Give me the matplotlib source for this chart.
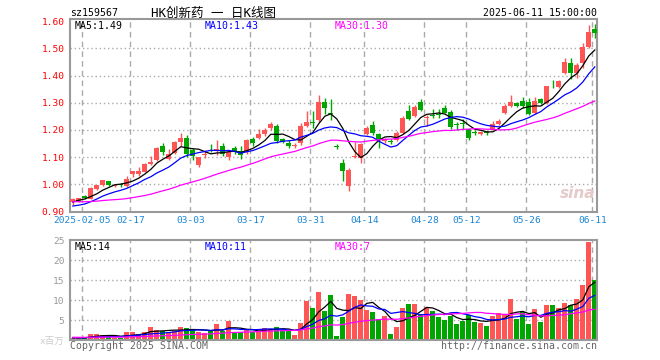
import math
import numpy as np
import matplotlib
matplotlib.use("Agg")
import matplotlib.pyplot as plt

plt.rcParams['font.family'] = ['DejaVu Sans Mono', 'Noto Sans CJK SC']

# ---------------- data ----------------
open_ = [0.936, 0.940, 0.957, 0.945, 0.984, 0.996, 1.012, 0.995, 1.000, 0.994,
         1.038, 1.038, 1.046, 1.073, 1.089, 1.141, 1.093, 1.114, 1.157, 1.169,
         1.126, 1.071, 1.108, 1.131, 1.127, 1.141, 1.102, 1.135, 1.122, 1.120,
         1.167, 1.169, 1.186, 1.206, 1.215, 1.165, 1.153, 1.141, 1.150, 1.215,
         1.228, 1.236, 1.304, 1.262, 1.140, 1.077, 0.993, 1.100, 1.095, 1.185,
         1.218, 1.185, 1.160, 1.158, 1.163, 1.189, 1.270, 1.252, 1.301, 1.243,
         1.255, 1.260, 1.279, 1.266, 1.222, 1.226, 1.202, 1.192, 1.185, 1.191,
         1.200, 1.221, 1.261, 1.289, 1.300, 1.306, 1.303, 1.261, 1.313, 1.298,
         1.363, 1.359, 1.411, 1.445, 1.411, 1.445, 1.506, 1.571]
high = [0.950, 0.950, 0.960, 0.990, 0.998, 1.016, 1.013, 1.002, 1.005, 1.030,
        1.050, 1.062, 1.080, 1.103, 1.137, 1.150, 1.130, 1.160, 1.187, 1.181,
        1.132, 1.101, 1.126, 1.147, 1.163, 1.150, 1.126, 1.142, 1.140, 1.165,
        1.175, 1.205, 1.208, 1.230, 1.220, 1.170, 1.163, 1.150, 1.224, 1.270,
        1.270, 1.328, 1.316, 1.312, 1.147, 1.093, 1.060, 1.154, 1.150, 1.214,
        1.233, 1.190, 1.170, 1.165, 1.195, 1.252, 1.292, 1.290, 1.312, 1.255,
        1.277, 1.277, 1.291, 1.275, 1.230, 1.240, 1.205, 1.198, 1.197, 1.196,
        1.232, 1.240, 1.297, 1.328, 1.303, 1.322, 1.316, 1.320, 1.318, 1.362,
        1.382, 1.382, 1.465, 1.465, 1.445, 1.518, 1.586, 1.588]
low = [0.925, 0.935, 0.945, 0.945, 0.980, 0.995, 0.995, 0.990, 0.990, 0.990,
       1.025, 1.030, 1.044, 1.070, 1.087, 1.108, 1.088, 1.112, 1.140, 1.101,
       1.090, 1.062, 1.098, 1.120, 1.108, 1.105, 1.090, 1.110, 1.093, 1.110,
       1.140, 1.165, 1.176, 1.200, 1.150, 1.150, 1.132, 1.132, 1.145, 1.210,
       1.206, 1.230, 1.260, 1.236, 1.130, 1.012, 0.975, 1.098, 1.080, 1.180,
       1.180, 1.135, 1.150, 1.148, 1.158, 1.186, 1.236, 1.248, 1.270, 1.214,
       1.243, 1.245, 1.262, 1.205, 1.200, 1.205, 1.163, 1.183, 1.182, 1.182,
       1.198, 1.218, 1.258, 1.285, 1.285, 1.280, 1.255, 1.258, 1.296, 1.296,
       1.356, 1.356, 1.405, 1.387, 1.392, 1.426, 1.500, 1.539]
close = [0.946, 0.948, 0.948, 0.985, 0.997, 1.015, 0.996, 0.998, 0.997, 1.020,
         1.049, 1.049, 1.073, 1.083, 1.135, 1.120, 1.110, 1.157, 1.169, 1.113,
         1.105, 1.101, 1.112, 1.128, 1.130, 1.110, 1.120, 1.120, 1.106, 1.163,
         1.150, 1.185, 1.200, 1.222, 1.160, 1.156, 1.140, 1.144, 1.214, 1.229,
         1.224, 1.304, 1.280, 1.258, 1.136, 1.050, 1.053, 1.105, 1.147, 1.208,
         1.187, 1.163, 1.165, 1.155, 1.187, 1.243, 1.240, 1.284, 1.274, 1.246,
         1.252, 1.256, 1.264, 1.212, 1.218, 1.222, 1.172, 1.189, 1.193, 1.188,
         1.222, 1.233, 1.289, 1.303, 1.288, 1.289, 1.257, 1.306, 1.298, 1.361,
         1.360, 1.380, 1.448, 1.408, 1.438, 1.506, 1.561, 1.557]
volume = [0.6, 0.5, 0.6, 1.5, 1.5, 1.25, 0.8, 0.6, 0.6, 2.0,
          1.9, 1.5, 1.9, 3.25, 2.5, 2.25, 2.1, 2.25, 3.25, 3.0,
          2.5, 2.0, 1.75, 2.4, 4.0, 2.25, 4.75, 1.9, 1.9, 2.6,
          1.9, 2.75, 2.9, 2.75, 3.25, 2.4, 2.4, 1.25, 4.25, 9.75,
          8.0, 12.0, 7.25, 11.25, 1.0, 5.8, 11.5, 11.0, 10.0, 7.5,
          7.0, 5.25, 6.0, 1.5, 3.25, 8.0, 9.0, 9.0, 6.5, 8.25,
          7.25, 5.8, 5.0, 6.0, 4.0, 4.8, 6.25, 4.5, 4.25, 3.5,
          6.0, 6.75, 6.5, 10.25, 5.25, 7.0, 4.0, 7.75, 4.5, 8.75,
          8.75, 8.0, 9.25, 8.75, 10.25, 13.75, 24.5, 15.0]

# closes / volumes of the 29 sessions before the window (only feed the moving averages)
prev_close = [0.950, 0.955, 0.960, 0.952, 0.948, 0.945, 0.950, 0.955, 0.948, 0.940,
              0.938, 0.945, 0.950, 0.942, 0.935, 0.940, 0.938, 0.932, 0.930, 0.927,
              0.915, 0.905, 0.900, 0.900, 0.905, 0.915, 0.925, 0.940, 0.948]
prev_volume = [0.8, 0.7, 0.9, 0.8, 0.7, 0.6, 0.8, 0.9, 0.7, 0.6,
               0.7, 0.8, 0.6, 0.7, 0.8, 0.6, 0.7, 0.6, 0.7, 0.8,
               0.7, 0.6, 0.6, 0.5, 0.6, 0.6, 0.5, 0.6, 0.5]

date_labels = ["2025-02-05", "02-17", "03-03", "03-17", "03-31",
               "04-14", "04-28", "05-12", "05-26", "06-11"]
date_index = [2, 10, 20, 30, 40, 49, 59, 66, 76, 87]
price_ticks = [0.90, 1.00, 1.10, 1.20, 1.30, 1.40, 1.50, 1.60]
vol_ticks = [0, 5, 10, 15, 20, 25]
vol_tick_labels = ["x百万", "5", "10", "15", "20", "25"]

symbol = "sz159567"
title = "HK创新药 一 日K线图"
timestamp = "2025-06-11 15:00:00"

# ---------------- helpers ----------------
RED = '#ff5555'
GREEN = '#00a600'
GRID = '#aaaaaa'
BORDER = '#999999'
W, H = 660, 360


def fx(px):
    return px / W


def fy(py):
    return 1 - py / H


def trunc(val, d):
    f = 10 ** d
    return math.floor(val * f + 1e-9) / f


def moving_average(prev, cur, n):
    allv = np.array(prev + cur, dtype=float)
    out = np.convolve(allv, np.ones(n) / n, mode='valid')
    return out[-len(cur):]


o = np.array(open_)
c = np.array(close)
hi = np.array(high)
lo = np.array(low)
v = np.array(volume)
N = len(c)
x = np.arange(N)
cols = [RED if cc >= oo else GREEN for oo, cc in zip(o, c)]

fig = plt.figure(figsize=(6.6, 3.6), dpi=100)
fig.patch.set_facecolor('white')

ax = fig.add_axes([fx(70), fy(212), fx(527.3), 193 / H])
vax = fig.add_axes([fx(70), fy(340), fx(527.3), 100 / H])

xlim = (-0.47, 87.42)
grid_x = [i - 0.4 for i in date_index]

for a in (ax, vax):
    a.set_xlim(*xlim)
    for s in a.spines.values():
        s.set_color(BORDER)
        s.set_linewidth(1.5)
    a.set_xticks(grid_x)
    a.tick_params(length=0)
    for gx in grid_x:
        a.axvline(gx, color=GRID, lw=1.0, ls=(0, (4, 3)), zorder=0)

# price panel
ax.set_ylim(0.898, 1.608)
ax.set_yticks(price_ticks)
ax.set_yticklabels([f"{t:.2f}" for t in price_ticks], color='#ff0000', fontsize=6.8)
for t in price_ticks[1:-1]:
    ax.axhline(t, color=GRID, lw=1.0, ls=(0, (1, 2)), zorder=0)
ax.set_xticklabels(date_labels, color='#1a86d6', fontsize=6.8)
ax.tick_params(axis='x', pad=3)
ax.tick_params(axis='y', pad=4)

ax.vlines(x, lo, hi, colors=cols, lw=1.0, zorder=2)
body_b = np.minimum(o, c)
body_h = np.maximum(np.abs(c - o), 0.0018)
ax.bar(x, body_h, bottom=body_b, width=0.8, color=cols, linewidth=0, zorder=3)

ma5 = moving_average(prev_close, close, 5)
ma10 = moving_average(prev_close, close, 10)
ma30 = moving_average(prev_close, close, 30)
ax.plot(x, ma5, color='black', lw=0.9, zorder=4)
ax.plot(x, ma10, color='#0000ff', lw=0.9, zorder=4)
ax.plot(x, ma30, color='#ff00ff', lw=0.9, zorder=4)

# volume panel
vax.set_ylim(0, 25)
vax.set_yticks(vol_ticks)
vax.set_yticklabels(vol_tick_labels, color='#999999', fontsize=6.8)
vax.get_yticklabels()[0].set_color('#cccccc')
for t in vol_ticks[1:-1]:
    vax.axhline(t, color=GRID, lw=1.0, ls=(0, (1, 2)), zorder=0)
vax.set_xticklabels([])
vax.tick_params(axis='y', pad=4)
vax.bar(x, v, width=0.83, color=cols, linewidth=0, zorder=2)
vma5 = moving_average(prev_volume, volume, 5)
vma10 = moving_average(prev_volume, volume, 10)
vma30 = moving_average(prev_volume, volume, 30)
vax.plot(x, vma5, color='black', lw=0.9, zorder=4)
vax.plot(x, vma10, color='#0000ff', lw=0.9, zorder=4)
vax.plot(x, vma30, color='#ff00ff', lw=0.9, zorder=4)

# texts
fs = 7.1
fig.text(fx(70), fy(13), symbol, fontsize=fs, va='center', ha='left')
fig.text(fx(213), fy(13), title, fontsize=9, va='center', ha='center')
fig.text(fx(597), fy(13), timestamp, fontsize=fs, va='center', ha='right')

fig.text(fx(75), fy(26), f"MA5:{trunc(ma5[-1], 2):.2f}", fontsize=fs, color='black', va='center')
fig.text(fx(205), fy(26), f"MA10:{trunc(ma10[-1], 2):.2f}", fontsize=fs, color='#0000ff', va='center')
fig.text(fx(335), fy(26), f"MA30:{trunc(ma30[-1], 2):.2f}", fontsize=fs, color='#ff00ff', va='center')

fig.text(fx(75), fy(246.5), f"MA5:{int(vma5[-1])}", fontsize=fs, color='black', va='center')
fig.text(fx(205), fy(246.5), f"MA10:{int(vma10[-1])}", fontsize=fs, color='#0000ff', va='center')
fig.text(fx(335), fy(246.5), f"MA30:{int(vma30[-1])}", fontsize=fs, color='#ff00ff', va='center')

fig.text(fx(70), fy(346), "Copyright 2025 SINA.COM", fontsize=fs, color='#666666', va='center')
fig.text(fx(597), fy(346), "http://finance.sina.com.cn", fontsize=fs, color='#666666',
         va='center', ha='right')

fig.text(fx(578), fy(193), "sina", fontsize=11, color='#e6c9c9', style='italic',
         fontweight='bold', family='DejaVu Sans', va='center', ha='center')

fig.savefig('out.png', dpi=100)
